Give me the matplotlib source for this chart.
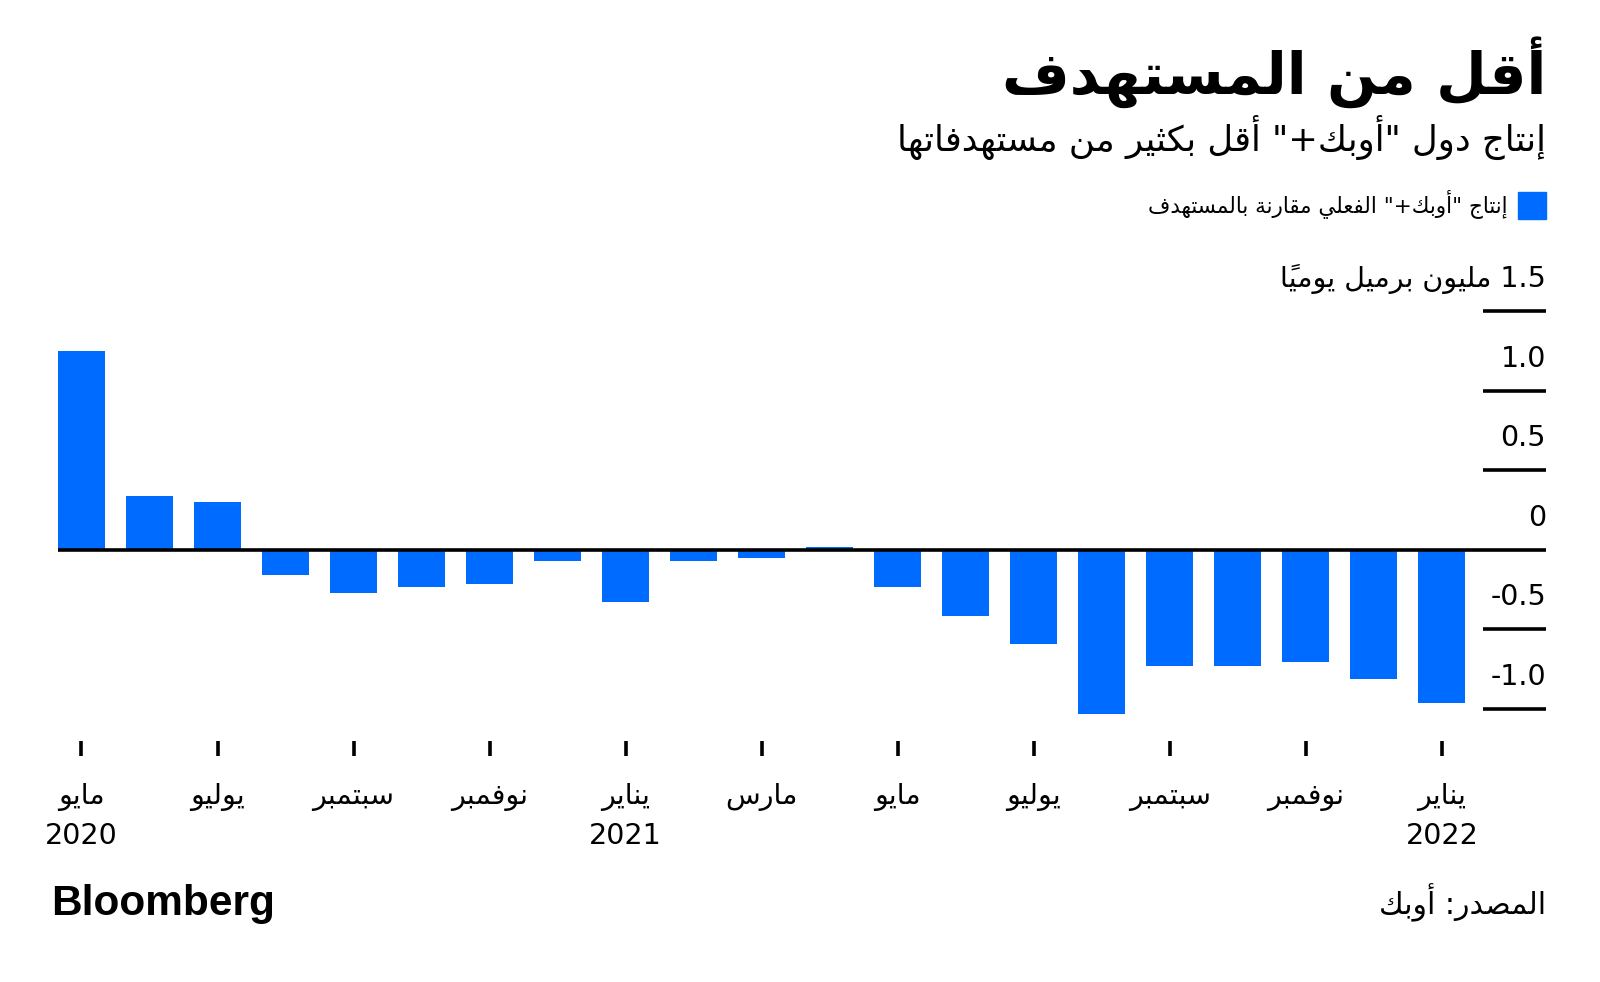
import matplotlib
matplotlib.use('Agg')
import matplotlib.pyplot as plt
from matplotlib.patches import Rectangle

# monthly data, May 2020 .. Jan 2022 (million barrels a day, actual vs target)
values = [1.25, 0.34, 0.30, -0.16, -0.27, -0.235, -0.215, -0.07, -0.33, -0.07, -0.05,
          0.02, -0.235, -0.415, -0.595, -1.03, -0.73, -0.73, -0.705, -0.81, -0.965]
tick_pos = [0, 2, 4, 6, 8, 10, 12, 14, 16, 18, 20]
tick_months = ['مايو', 'يوليو', 'سبتمبر', 'نوفمبر', 'يناير', 'مارس',
               'مايو', 'يوليو', 'سبتمبر', 'نوفمبر', 'يناير']
tick_years = {0: '2020', 8: '2021', 20: '2022'}
y_ticks = [1.5, 1.0, 0.5, 0, -0.5, -1.0]
y_labels = ['1.5 مليون برميل يومياً', '1.0', '0.5', '0', '-0.5', '-1.0']

title = 'أقل من المستهدف'
subtitle = 'إنتاج دول "أوبك+" أقل بكثير من مستهدفاتها'
legend_label = 'إنتاج "أوبك+" الفعلي مقارنة بالمستهدف'
source = 'المصدر: أوبك'

BLUE = '#006cff'

# --- tiny arabic shaper: matplotlib has no complex text layout ---
_two = {0x0622: 0xFE81, 0x0623: 0xFE83, 0x0624: 0xFE85, 0x0625: 0xFE87, 0x0627: 0xFE8D,
        0x0629: 0xFE93, 0x062F: 0xFEA9, 0x0630: 0xFEAB, 0x0631: 0xFEAD, 0x0632: 0xFEAF,
        0x0648: 0xFEED, 0x0649: 0xFEEF}
_four = {0x0626: 0xFE89, 0x0628: 0xFE8F, 0x062A: 0xFE95, 0x062B: 0xFE99, 0x062C: 0xFE9D,
         0x062D: 0xFEA1, 0x062E: 0xFEA5, 0x0633: 0xFEB1, 0x0634: 0xFEB5, 0x0635: 0xFEB9,
         0x0636: 0xFEBD, 0x0637: 0xFEC1, 0x0638: 0xFEC5, 0x0639: 0xFEC9, 0x063A: 0xFECD,
         0x0641: 0xFED1, 0x0642: 0xFED5, 0x0643: 0xFED9, 0x0644: 0xFEDD, 0x0645: 0xFEE1,
         0x0646: 0xFEE5, 0x0647: 0xFEE9, 0x064A: 0xFEF1}
_lamalef = {0x0622: 0xFEF5, 0x0623: 0xFEF7, 0x0625: 0xFEF9, 0x0627: 0xFEFB}
_marks = set(range(0x064B, 0x0653))


def ar(text):
    cps = [ord(c) for c in text]
    n = len(cps)
    clusters = []
    i = 0
    while i < n:
        cp = cps[i]
        if cp in _marks:
            clusters[-1][0] += chr(cp)
            i += 1
            continue
        j = i - 1
        while j >= 0 and cps[j] in _marks:
            j -= 1
        prev = cps[j] if j >= 0 else None
        k = i + 1
        while k < n and cps[k] in _marks:
            k += 1
        nxt = cps[k] if k < n else None
        is_letter = cp in _two or cp in _four
        joins_prev = is_letter and prev in _four
        joins_next = cp in _four and (nxt in _two or nxt in _four)
        if cp == 0x0644 and nxt in _lamalef:
            clusters.append([chr(_lamalef[nxt] + (1 if joins_prev else 0)), False])
            i = k + 1
            continue
        if cp in _four:
            off = 3 if (joins_prev and joins_next) else 1 if joins_prev else 2 if joins_next else 0
            g = chr(_four[cp] + off)
        elif cp in _two:
            g = chr(_two[cp] + (1 if joins_prev else 0))
        elif cp == 0x0621:
            g = chr(0xFE80)
        else:
            g = chr(cp)
        ch = chr(cp)
        ltr = ch.isascii() and ch.isalnum()
        nxt_digit = nxt is not None and chr(nxt).isdigit()
        prev_digit = prev is not None and chr(prev).isdigit()
        if ch == '.' and prev_digit and nxt_digit:
            ltr = True
        if ch == '-' and nxt_digit:
            ltr = True
        clusters.append([g, ltr])
        i += 1
    groups = []
    for g, ltr in clusters:
        if ltr and groups and groups[-1][1]:
            groups[-1][0] += g
        else:
            groups.append([g, ltr])
    return ''.join(g for g, _ in reversed(groups))


plt.rcParams['font.family'] = ['DejaVu Sans']

fig = plt.figure(figsize=(16, 9.82), dpi=100)
ax = fig.add_axes([0.03625, 0.2684, 0.93, 0.4149])

x = list(range(len(values)))
ax.bar(x, values, width=0.69, color=BLUE, zorder=2)
ax.axhline(0, color='black', lw=2.6, zorder=3)

x_right = 21.53
ax.set_xlim(-0.345, x_right)
ax.set_ylim(-1.06, 1.5)

# y ticks drawn as short bars on the right with labels above
for v, lab in zip(y_ticks, y_labels):
    if v != 0:
        ax.hlines(v, 20.6, x_right, color='black', lw=2.6, clip_on=False)
    ax.text(x_right, v + 0.15, ar(lab), ha='right', va='baseline', fontsize=20.5, clip_on=False)

# x ticks: month labels with year beneath
labels = []
for p, m in zip(tick_pos, tick_months):
    lab = ar(m)
    if p in tick_years:
        lab += '\n' + tick_years[p]
    labels.append(lab)
ax.set_xticks(tick_pos)
ax.set_xticklabels(labels, fontsize=20.5, linespacing=1.5)
ax.tick_params(axis='x', length=0, pad=46.5)
ax.vlines(tick_pos, -0.092, -0.0555, transform=ax.get_xaxis_transform(),
          color='black', lw=2.6, clip_on=False)
ax.set_yticks([])
for s in ax.spines.values():
    s.set_visible(False)

# header
fig.text(1546 / 1600, 1 - 94 / 982, ar(title), ha='right', va='baseline',
         fontsize=42, fontweight='bold')
fig.text(1546 / 1600, 1 - 151 / 982, ar(subtitle), ha='right', va='baseline', fontsize=25.5)
fig.patches.append(Rectangle((1518 / 1600, 1 - 219 / 982), 28 / 1600, 27 / 982,
                             transform=fig.transFigure, color=BLUE))
fig.text(1508 / 1600, 1 - 212 / 982, ar(legend_label), ha='right', va='baseline', fontsize=15.5)

# footer
fig.text(51 / 1600, 1 - 915 / 982, 'Bloomberg', ha='left', va='baseline',
         fontsize=30.5, fontweight='bold', family=['Liberation Sans', 'DejaVu Sans'])
fig.text(1546 / 1600, 1 - 914 / 982, ar(source), ha='right', va='baseline', fontsize=21.5)

fig.savefig('out.png', dpi=100, facecolor='white')
